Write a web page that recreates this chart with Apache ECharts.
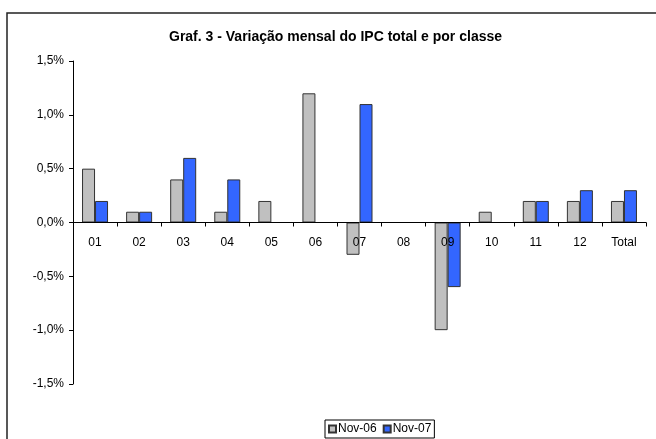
<!DOCTYPE html>
<html>
<head>
<meta charset="utf-8">
<script src="https://cdn.jsdelivr.net/npm/echarts@6/dist/echarts.min.js"></script>
<style>
html,body{margin:0;padding:0;background:#fff;}
#chart{width:656px;height:439px;}
</style>
</head>
<body>
<div id="chart"></div>
<script>
const categories = ['01','02','03','04','05','06','07','08','09','10','11','12','Total'];
const nov06 = [0.5, 0.1, 0.4, 0.1, 0.2, 1.2, -0.3, 0, -1.0, 0.1, 0.2, 0.2, 0.2];
const nov07 = [0.2, 0.1, 0.6, 0.4, 0, 0, 1.1, 0, -0.6, 0, 0.2, 0.3, 0.3];
const seriesNames = ['Nov-06', 'Nov-07'];
const yTicks = [-1.5, -1.0, -0.5, 0, 0.5, 1.0, 1.5];

const font = 'Liberation Sans, Arial, sans-serif';
const gridTop = 61, gridBottom = 55, H = 439;
const plotH = H - gridTop - gridBottom;
const yMin = yTicks[0], yMax = yTicks[yTicks.length - 1];
// distance from bottom of grid to the zero line
const zeroOffset = plotH * (0 - yMin) / (yMax - yMin);

const chart = echarts.init(document.getElementById('chart'), null, {renderer: 'canvas'});
chart.setOption({
  animation: false,
  backgroundColor: '#fff',
  graphic: [{
    type: 'rect',
    shape: {x: 7, y: 13, width: 700, height: 500},
    style: {fill: 'none', stroke: '#222', lineWidth: 1.5},
    silent: true
  }],
  title: {
    text: 'Graf. 3 - Variação mensal do IPC total e por classe',
    left: 169, top: 30,
    padding: 0,
    textStyle: {fontFamily: font, fontWeight: 'bold', fontSize: 14, color: '#000'}
  },
  legend: {
    data: seriesNames,
    left: 325, top: 420,
    orient: 'horizontal',
    itemWidth: 7, itemHeight: 7, itemGap: 6,
    padding: [3, 3, 3, 3],
    borderColor: '#000', borderWidth: 1,
    textStyle: {fontFamily: font, fontSize: 12, color: '#000', padding: [0, 0, 0, -3]},
    icon: 'rect'
  },
  grid: {left: 73, right: 10, top: gridTop, bottom: gridBottom, containLabel: false},
  xAxis: {
    type: 'category',
    data: categories,
    z: 5,
    offset: -zeroOffset,
    axisLine: {onZero: false, lineStyle: {color: '#000', width: 1}},
    axisTick: {show: true, length: 4, inside: false, lineStyle: {color: '#000'}},
    axisLabel: {fontFamily: font, fontSize: 12, color: '#000', margin: 14},
    splitLine: {show: false}
  },
  yAxis: {
    type: 'value',
    min: yMin, max: yMax, interval: 0.5,
    axisLine: {show: true, lineStyle: {color: '#000', width: 1}},
    axisTick: {show: true, length: 4, lineStyle: {color: '#000'}},
    axisLabel: {
      fontFamily: font, fontSize: 12, color: '#000', margin: 9,
      formatter: v => v.toFixed(1).replace('.', ',') + '%'
    },
    splitLine: {show: false}
  },
  series: [
    {
      name: seriesNames[0], type: 'bar', data: nov06,
      barWidth: 13, barGap: '0%',
      itemStyle: {color: '#C0C0C0', borderColor: '#333', borderWidth: 1}
    },
    {
      name: seriesNames[1], type: 'bar', data: nov07,
      barWidth: 13, barGap: '0%',
      itemStyle: {color: '#3366FF', borderColor: '#333', borderWidth: 1}
    }
  ]
});
</script>
</body>
</html>
